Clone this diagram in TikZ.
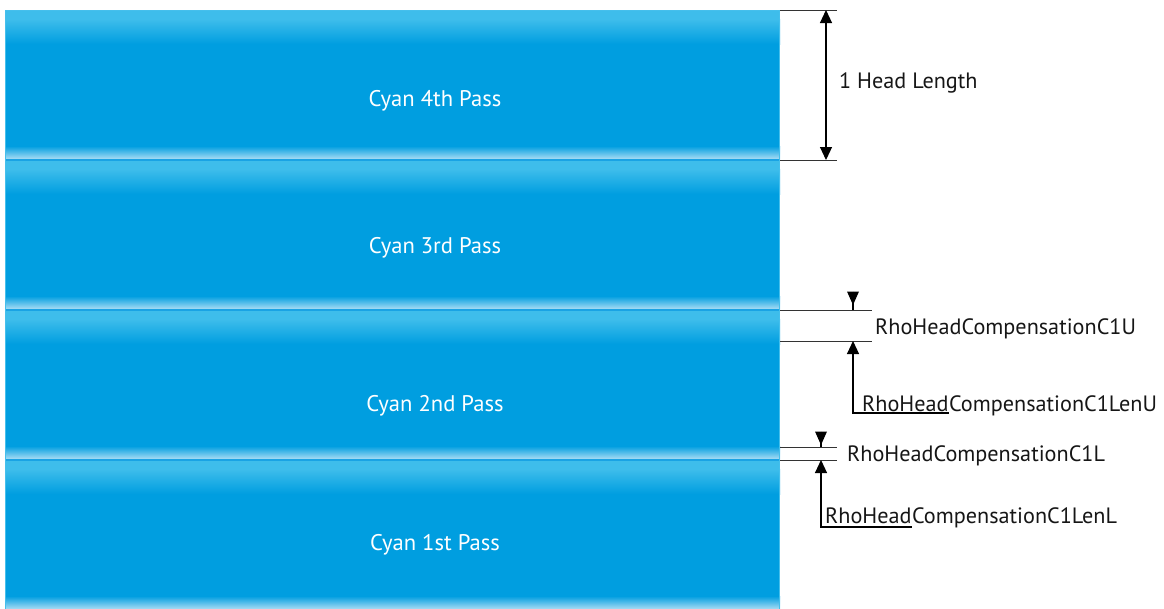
\documentclass[tikz,border=0pt]{standalone}
\usepackage{fontspec}
\setmainfont{PT Sans}
\usetikzlibrary{arrows.meta,calc}

\definecolor{cyanbase}{HTML}{009EE0}
\definecolor{toplight}{HTML}{3EBDEB}
\definecolor{botlight}{HTML}{A8DCF4}
\definecolor{sepline}{HTML}{1AA3E4}
\definecolor{edgeline}{HTML}{45BFEC}
\definecolor{dimgray}{HTML}{333333}
\definecolor{labelink}{HTML}{161616}

\tikzset{
  passlabel/.style={anchor=base, inner sep=0pt, text=white, font=\fontsize{22.6}{26}\selectfont},
  dimlabel/.style={anchor=base west, inner sep=0pt, text=labelink, font=\fontsize{22.2}{26}\selectfont},
  extline/.style={draw=dimgray, line width=1pt},
  dimline/.style={draw=black, line width=1.1pt},
  tip/.tip={Triangle[width=12pt,length=13pt]},
}

% a downward arrowhead whose base sits at the given point
\newcommand{\downhead}[1]{\fill[black] ($(#1)+(-6,0)$) -- ($(#1)+(6,0)$) -- ($(#1)+(0,13.5)$) -- cycle;}

\begin{document}
\begin{tikzpicture}[x=1pt,y=-1pt]
\useasboundingbox (0,0) rectangle (1164,608);
\clip (0,0) rectangle (1164,608);

% four stacked pass bands with glossy top and bottom highlights
\foreach \t in {10,160,310,460}{
  \fill[cyanbase] (5,\t) rectangle (780,\t+150);
  \fill[toplight] (5,\t) rectangle (780,\t+9);
  \shade[top color=toplight, bottom color=cyanbase] (5,\t+9) rectangle (780,\t+34);
  \shade[top color=cyanbase, bottom color=botlight] (5,\t+136) rectangle (780,\t+149);
}
\foreach \t in {160,310,460}{
  \draw[sepline, line width=1.6pt] (5,\t) -- (780,\t);
}
\draw[edgeline, line width=1pt] (5.5,10.5) rectangle (779.5,615);

% pass labels
\node[passlabel] (p4) at (435,106) {Cyan 4th Pass};
\node[passlabel] (p3) at (435,253) {Cyan 3rd Pass};
\node[passlabel] (p2) at (435,411) {Cyan 2nd Pass};
\node[passlabel] (p1) at (435,550) {Cyan 1st Pass};

% head length dimension
\coordinate (hlA) at (780,10);
\coordinate (hlB) at (780,160);
\coordinate (hlAe) at (837,10);
\coordinate (hlBe) at (837,160);
\coordinate (hlTop) at (826,10);
\coordinate (hlBot) at (826,160);
\draw[extline] (hlA) -- (hlAe);
\draw[extline] (hlB) -- (hlBe);
\draw[dimline, {tip}-{tip}] (hlTop) -- (hlBot);
\node[dimlabel] (hl) at (839,88) {1 Head Length};

% upper compensation dimension
\coordinate (uA) at (780,310);
\coordinate (uB) at (780,341);
\coordinate (uAe) at (872,310);
\coordinate (uBe) at (872,341);
\coordinate (uTop) at (853,291.5);
\coordinate (uTipA) at (853,310);
\coordinate (uTipB) at (853,341);
\coordinate (uCorner) at (853,413);
\draw[extline] (uA) -- (uAe);
\draw[extline] (uB) -- (uBe);
\draw[dimline] (uTop) -- (uTipA);
\downhead{uTop}
\node[dimlabel] (cu) at (875,334) {RhoHeadCompensationC1U};
\node[dimlabel] (cuLa) at (862,411) {RhoHead};
\node[dimlabel] (cuLb) at (cuLa.base east) {CompensationC1LenU};
\draw[dimline, -{tip}] ($(cuLa.base east)+(0,2)$) -- (uCorner) -- (uTipB);

% lower compensation dimension
\coordinate (lA) at (780,447);
\coordinate (lB) at (780,460);
\coordinate (lAe) at (837,447);
\coordinate (lBe) at (837,460);
\coordinate (lTop) at (821,431.5);
\coordinate (lTipA) at (821,447);
\coordinate (lTipB) at (821,460);
\coordinate (lCorner) at (821,527);
\draw[extline] (lA) -- (lAe);
\draw[extline] (lB) -- (lBe);
\draw[dimline] (lTop) -- (lTipA);
\downhead{lTop}
\node[dimlabel] (cl) at (847,461) {RhoHeadCompensationC1L};
\node[dimlabel] (clLa) at (825,523) {RhoHead};
\node[dimlabel] (clLb) at (clLa.base east) {CompensationC1LenL};
\draw[dimline, -{tip}] ($(clLa.base east)+(0,4)$) -- (lCorner) -- (lTipB);
\end{tikzpicture}
\end{document}
